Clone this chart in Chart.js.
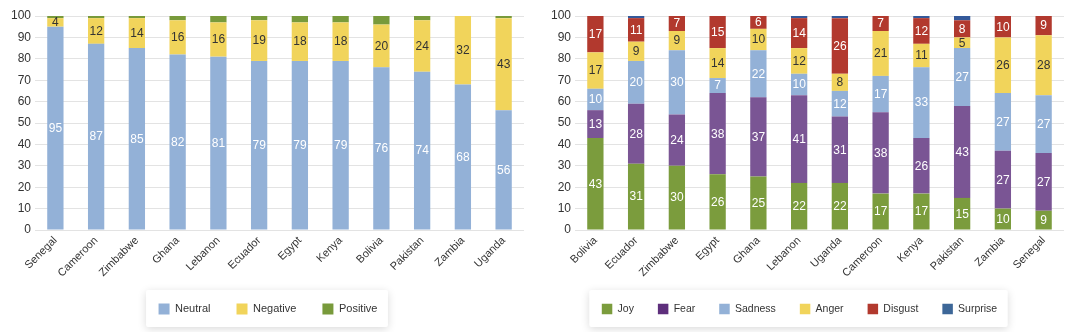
<!DOCTYPE html>
<html><head><meta charset="utf-8">
<script src="https://cdn.jsdelivr.net/npm/chart.js@4.4.1/dist/chart.umd.min.js"></script>
<style>
html,body{margin:0;padding:0;background:#fff;}
#wrap{display:flex;width:1080px;height:332px;}
canvas{display:block;}
</style></head><body>
<div id="wrap"><canvas id="c1" width="540" height="332"></canvas><canvas id="c2" width="540" height="332"></canvas></div>
<script>
// ---- data ----
const sentimentCountries = ['Senegal','Cameroon','Zimbabwe','Ghana','Lebanon','Ecuador','Egypt','Kenya','Bolivia','Pakistan','Zambia','Uganda'];
const neutral  = [95,87,85,82,81,79,79,79,76,74,68,56];
const negative = [4,12,14,16,16,19,18,18,20,24,32,43];
const positive = [1,1,1,2,3,2,3,3,4,2,0,1];

const emotionCountries = ['Bolivia','Ecuador','Zimbabwe','Egypt','Ghana','Lebanon','Uganda','Cameroon','Kenya','Pakistan','Zambia','Senegal'];
const joy      = [43,31,30,26,25,22,22,17,17,15,10,9];
const fear     = [13,28,24,38,37,41,31,38,26,43,27,27];
const sadness  = [10,20,30,7,22,10,12,17,33,27,27,27];
const anger    = [17,9,9,14,10,12,8,21,11,5,26,28];
const disgust  = [17,11,7,15,6,14,26,7,12,8,10,9];
const surprise = [0,1,0,0,0,1,1,0,1,2,0,0];

Chart.defaults.font.family = '"Liberation Sans", Arial, Helvetica, sans-serif';
Chart.defaults.color = '#333';

const segLabels = {
  id: 'segLabels',
  afterDatasetsDraw(chart) {
    const ctx = chart.ctx;
    ctx.save();
    ctx.font = '12px "Liberation Sans", Arial, sans-serif';
    ctx.textAlign = 'center';
    ctx.textBaseline = 'middle';
    chart.data.datasets.forEach((ds, i) => {
      if (!ds.labelColor) return;
      const meta = chart.getDatasetMeta(i);
      meta.data.forEach((el, j) => {
        const v = ds.data[j];
        if (!v || v < 3) return;
        const p = el.getProps(['x', 'y', 'base'], true);
        ctx.fillStyle = ds.labelColor;
        ctx.fillText(String(v), p.x, (p.y + p.base) / 2 + 0.5);
      });
    });
    ctx.restore();
  }
};

const legendFrame = {
  id: 'legendFrame',
  afterLayout(chart, args, opts) {
    const lg = chart.legend; if (!lg) return;
    const dx = opts.centerX - (lg.left + lg.right) / 2;
    lg.left += dx; lg.right += dx;
    const lo = chart.options.plugins.legend.labels;
    const ih = Math.max(lo.font.size, lo.boxHeight);
    const newTop = opts.centerY - lo.padding - ih / 2;
    const dy = newTop - lg.top;
    lg.top += dy; lg.bottom += dy;
  },
  beforeDraw(chart) {
    const lg = chart.legend;
    if (!lg || !lg.legendHitBoxes || !lg.legendHitBoxes.length) return;
    let l = Infinity, r = -Infinity, cy = 0;
    lg.legendHitBoxes.forEach(h => { l = Math.min(l, h.left); r = Math.max(r, h.left + h.width); cy = h.top + h.height / 2; });
    const x0 = l - 12.5, x1 = r + 10.5, y0 = cy - 19, y1 = cy + 18;
    const ctx = chart.ctx;
    ctx.save();
    ctx.shadowColor = 'rgba(0,0,0,0.15)';
    ctx.shadowBlur = 9;
    ctx.shadowOffsetY = 2;
    ctx.fillStyle = '#fff';
    ctx.beginPath();
    if (ctx.roundRect) ctx.roundRect(x0, y0, x1 - x0, y1 - y0, 2); else ctx.rect(x0, y0, x1 - x0, y1 - y0);
    ctx.fill();
    ctx.restore();
  }
};

function legendItems(chart) {
  const items = Chart.defaults.plugins.legend.labels.generateLabels(chart);
  items.forEach((it, i) => {
    const ds = chart.data.datasets[i];
    it.fillStyle = ds.legendColor || ds.backgroundColor;
    it.strokeStyle = 'transparent';
    it.lineWidth = 0;
  });
  return items;
}

function makeOptions(legendFont, legendPad, centerX) {
  const legendHeight = legendFont + legendPad + 10;
  const xHeight = 332 - 230 - legendHeight;
  return {
    responsive: false,
    animation: false,
    devicePixelRatio: 1,
    layout: { padding: { top: 16, right: 16, bottom: 0, left: 0 } },
    datasets: { bar: { barPercentage: 0.4, categoryPercentage: 1.0, borderWidth: 0 } },
    scales: {
      x: {
        stacked: true,
        grid: { display: false, drawTicks: false },
        border: { display: false },
        ticks: { autoSkip: false, minRotation: 45, maxRotation: 45, color: '#333', font: { size: 11 }, padding: 4 },
        afterFit(s) { s.height = xHeight; }
      },
      y: {
        stacked: true, min: 0, max: 100,
        ticks: { stepSize: 10, color: '#333', font: { size: 12 }, padding: 4 },
        grid: { color: '#e3e3e3', drawTicks: false },
        border: { display: false },
        afterFit(s) { s.width = 35; }
      }
    },
    plugins: {
      legend: {
        position: 'bottom',
        labels: { boxWidth: legendFont, boxHeight: legendFont, padding: legendPad, color: '#333', font: { size: legendFont }, generateLabels: legendItems }
      },
      tooltip: { enabled: false },
      legendFrame: { centerX: centerX, centerY: 309 }
    }
  };
}

new Chart(document.getElementById('c1'), {
  type: 'bar',
  data: {
    labels: sentimentCountries,
    datasets: [
      { label: 'Neutral',  data: neutral,  backgroundColor: '#93b1d7', labelColor: '#ffffff' },
      { label: 'Negative', data: negative, backgroundColor: '#f1d45b', labelColor: '#333333' },
      { label: 'Positive', data: positive, backgroundColor: '#789a3b' }
    ]
  },
  options: makeOptions(11, 26, 268),
  plugins: [segLabels, legendFrame]
});

new Chart(document.getElementById('c2'), {
  type: 'bar',
  data: {
    labels: emotionCountries,
    datasets: [
      { label: 'Joy',      data: joy,      backgroundColor: '#7b9c3d', labelColor: '#ffffff' },
      { label: 'Fear',     data: fear,     backgroundColor: '#7a5594', legendColor: '#5e2f7c', labelColor: '#ffffff' },
      { label: 'Sadness',  data: sadness,  backgroundColor: '#93b1d7', labelColor: '#ffffff' },
      { label: 'Anger',    data: anger,    backgroundColor: '#f1d45b', labelColor: '#333333' },
      { label: 'Disgust',  data: disgust,  backgroundColor: '#b2392e', labelColor: '#ffffff' },
      { label: 'Surprise', data: surprise, backgroundColor: '#34599a', legendColor: '#3d6798' }
    ]
  },
  options: makeOptions(10.5, 24, 259.5),
  plugins: [segLabels, legendFrame]
});
</script>
</body></html>
